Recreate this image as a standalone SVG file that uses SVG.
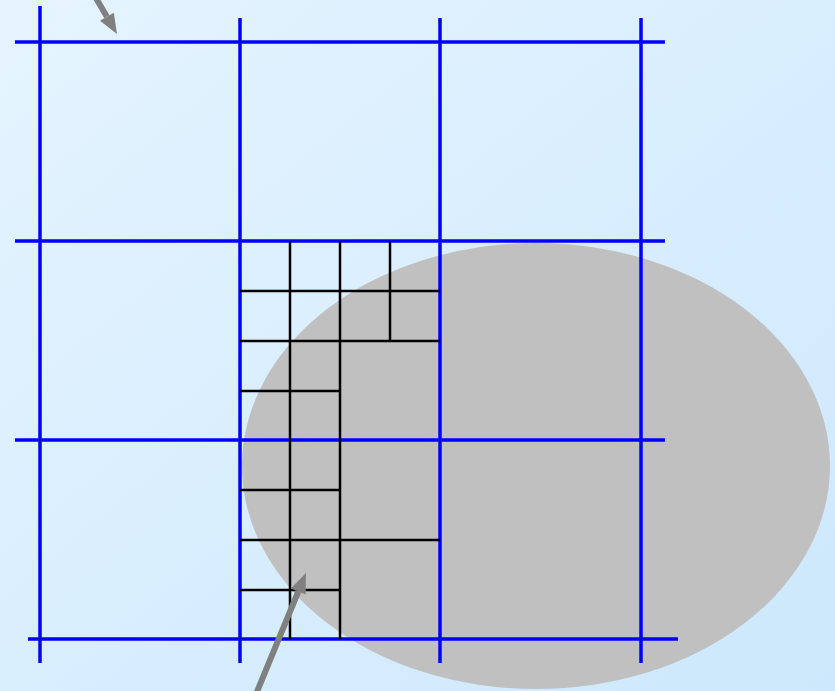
<svg xmlns="http://www.w3.org/2000/svg" width="835" height="691" viewBox="0 0 835 691">
  <defs>
    <linearGradient id="bg" x1="0" y1="0" x2="1" y2="1">
      <stop offset="0" stop-color="#e5f4ff"/>
      <stop offset="1" stop-color="#cde8fc"/>
    </linearGradient>
    <marker id="head" markerUnits="userSpaceOnUse" markerWidth="22" markerHeight="18" refX="0" refY="8" orient="auto" overflow="visible">
      <path d="M0,0 L20,8 L0,16 Z" fill="#808080"/>
    </marker>
    <style>
      .blue{stroke:#0000ff;stroke-width:3.5;fill:none}
      .fine{stroke:#000000;stroke-width:2.5;fill:none}
      .arrow{stroke:#808080;stroke-width:6;fill:none;marker-end:url(#head)}
    </style>
  </defs>
  <rect x="0" y="0" width="835" height="691" fill="url(#bg)"/>
  <g id="region">
    <ellipse cx="536" cy="466" rx="294" ry="223" fill="#c0c0c0"/>
  </g>
  <g id="coarse-grid">
    <line class="blue" x1="15" y1="42" x2="665" y2="42"/>
    <line class="blue" x1="15" y1="241" x2="665" y2="241"/>
    <line class="blue" x1="15" y1="440" x2="665" y2="440"/>
    <line class="blue" x1="28" y1="639" x2="678" y2="639"/>
    <line class="blue" x1="40" y1="6" x2="40" y2="663"/>
    <line class="blue" x1="240" y1="18" x2="240" y2="663"/>
    <line class="blue" x1="440" y1="18" x2="440" y2="663"/>
    <line class="blue" x1="641" y1="18" x2="641" y2="663"/>
  </g>
  <g id="fine-grid">
    <line class="fine" x1="290" y1="241" x2="290" y2="639"/>
    <line class="fine" x1="340" y1="241" x2="340" y2="639"/>
    <line class="fine" x1="390" y1="241" x2="390" y2="341"/>
    <line class="fine" x1="240" y1="291" x2="440" y2="291"/>
    <line class="fine" x1="240" y1="341" x2="440" y2="341"/>
    <line class="fine" x1="240" y1="391" x2="340" y2="391"/>
    <line class="fine" x1="240" y1="490" x2="340" y2="490"/>
    <line class="fine" x1="240" y1="540" x2="440" y2="540"/>
    <line class="fine" x1="240" y1="590" x2="340" y2="590"/>
  </g>
  <g id="connectors">
    <line class="arrow" x1="93" y1="-7" x2="106.9" y2="16.8"/>
    <line class="arrow" x1="254" y1="699" x2="298.3" y2="591.5"/>
  </g>
</svg>
